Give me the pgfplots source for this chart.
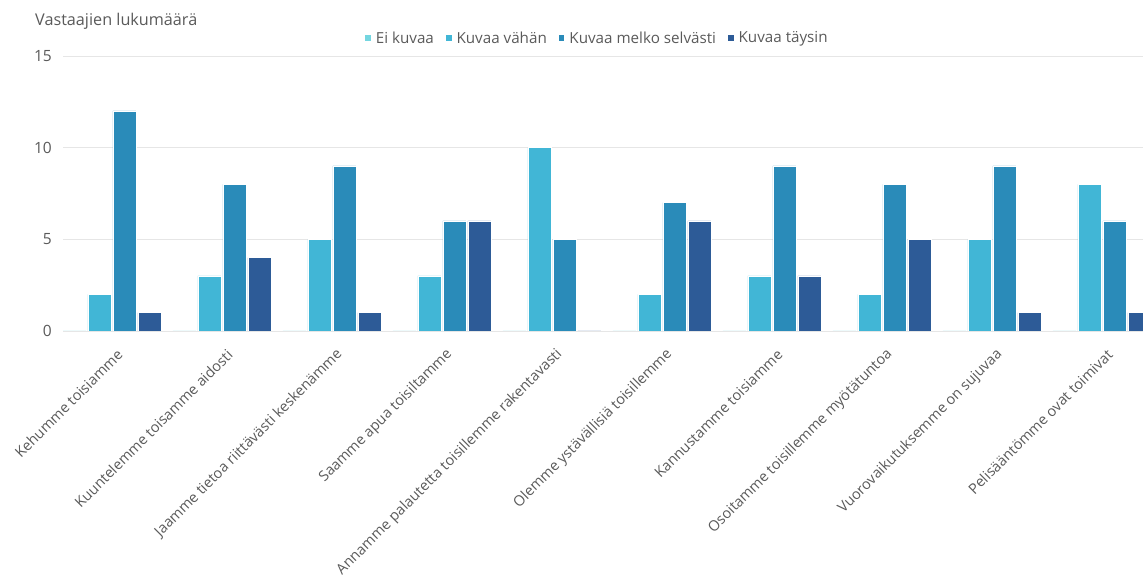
\documentclass[border=0pt]{standalone}
\usepackage{pgfplots}
\pgfplotsset{compat=1.18}
\usepackage{fontspec}
\setmainfont{Open Sans}
\definecolor{c0}{HTML}{74D6E0}
\definecolor{c1}{HTML}{41B6D6}
\definecolor{c2}{HTML}{2A8BB9}
\definecolor{c3}{HTML}{2D5B97}
\definecolor{txt}{HTML}{5A5A5A}
\definecolor{gridc}{HTML}{E6E6E6}
\definecolor{zeroc}{HTML}{CFCFCF}
\begin{document}
\begin{tikzpicture}
\path[use as bounding box] (0pt,0pt) rectangle (1143pt,577pt);
\clip (0pt,0pt) rectangle (1143pt,577pt);
\node[anchor=west, text=txt, font=\fontsize{16.2}{19}\selectfont, inner sep=0pt] at (35pt,556pt) {Vastaajien lukumäärä};
\begin{axis}[
  at={(63pt,246pt)}, anchor=south west,
  scale only axis, width=1104.95pt, height=275pt,
  xmin=-0.445, xmax=9.6, ymin=0, ymax=15,
  ybar=2pt, bar width=23pt,
  axis line style={draw=none},
  major tick length=0pt,
  /pgf/number format/assume math mode=true,
  ytick={5,10,15},
  extra y ticks={0},
  extra y tick style={grid style={draw=zeroc, line width=1.6pt}},
  ymajorgrids, major grid style={draw=gridc, line width=0.8pt},
  yticklabel style={text=txt, font=\fontsize{15.5}{18}\selectfont, anchor=east, inner sep=0pt, xshift=-11pt},
  xtick={0,...,9},
  xticklabels={Kehumme toisiamme, Kuuntelemme toisamme aidosti, Jaamme tietoa riittävästi keskenämme, Saamme apua toisiltamme, Annamme palautetta toisillemme rakentavasti, Olemme ystävällisiä toisillemme, Kannustamme toisiamme, Osoitamme toisillemme myötätuntoa, Vuorovaikutuksemme on sujuvaa, Pelisääntömme ovat toimivat},
  xticklabel style={xshift=8pt, yshift=-21pt, rotate=45, anchor=east, inner sep=0pt, text=txt, font=\fontsize{14.5}{17}\selectfont},
  legend style={at={(0.4837,1.065)}, anchor=center, draw=none, fill=none, legend columns=4,
    font=\fontsize{15.2}{18}\selectfont, text=txt,
    /tikz/every odd column/.append style={column sep=3pt},
    /tikz/every even column/.append style={column sep=10pt}},
  legend cell align=left,
  legend image code/.code={\fill[#1, draw=none] (0pt,-2.8pt) rectangle (5.6pt,2.8pt);},
]
\addplot[fill=c0, draw=none] coordinates {(0,0) (1,0) (2,0) (3,0) (4,0) (5,0) (6,0) (7,0) (8,0) (9,0)};
\addplot[fill=c1, draw=white, line width=0.6pt] coordinates {(0,2) (1,3) (2,5) (3,3) (4,10) (5,2) (6,3) (7,2) (8,5) (9,8)};
\addplot[fill=c2, draw=white, line width=0.6pt] coordinates {(0,12) (1,8) (2,9) (3,6) (4,5) (5,7) (6,9) (7,8) (8,9) (9,6)};
\addplot[fill=c3, draw=white, line width=0.6pt] coordinates {(0,1) (1,4) (2,1) (3,6) (4,0) (5,6) (6,3) (7,5) (8,1) (9,1)};
\legend{Ei kuvaa, Kuvaa vähän, Kuvaa melko selvästi, Kuvaa täysin}
\end{axis}
\end{tikzpicture}
\end{document}
